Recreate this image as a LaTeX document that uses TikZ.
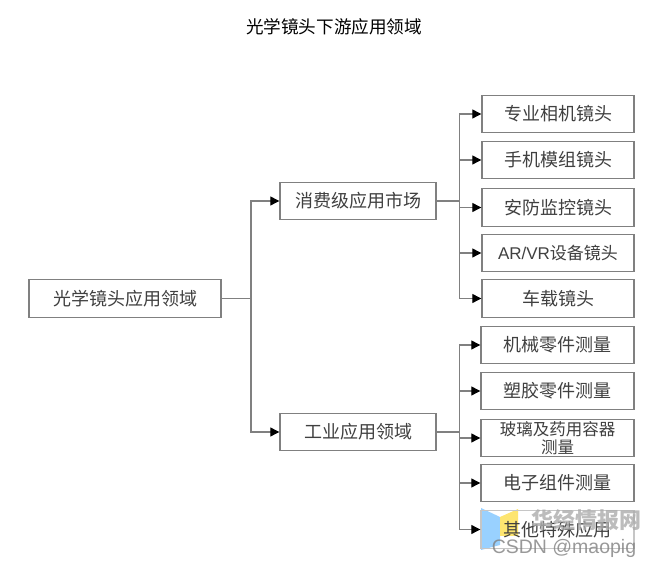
\documentclass[tikz,border=0pt]{standalone}
\usepackage{fontspec}
\setmainfont{Noto Sans CJK SC}
\newfontfamily\latinfont{Liberation Sans}
\usetikzlibrary{arrows.meta}
\definecolor{linegray}{HTML}{808080}
\definecolor{textgray}{HTML}{404040}
\tikzset{
  every node/.style={text=textgray, font=\fontsize{18}{20}\selectfont},
  box/.style={draw=linegray, line width=1.4pt, fill=white, minimum height=37.5pt, inner sep=0pt, align=center},
  rootbox/.style={box, minimum width=192pt},
  midbox/.style={box, minimum width=156pt},
  leafbox/.style={box, minimum width=152pt},
  lowbox/.style={box, minimum width=153pt},
  link/.style={draw=linegray, line width=1.2pt},
  arrowlink/.style={link, -{Triangle[length=9pt,width=9pt,color=black,fill=black]}},
  mark text/.style={inner sep=0pt, text=gray, text opacity=0.8}
}
\begin{document}
\begin{tikzpicture}[x=1pt,y=-1pt]
\useasboundingbox (0,0) rectangle (649,569);
\fill[white] (0,0) rectangle (649,569);
\node[inner sep=0pt,text=black,font=\fontsize{17.6}{20}\selectfont] (title) at (334,27) {光学镜头下游应用领域};

% logo lies under the last box
\fill[blue!45!cyan!40!white] (481,508) -- (500,517) -- (500,545) -- (481,550) -- cycle;
\fill[yellow!70!orange!55!white] (500,517) -- (518,509) -- (518,536) -- (500,536) -- cycle;

\node[rootbox] (root) at (125,298.5) {光学镜头应用领域};
\node[midbox] (cons) at (358,201) {消费级应用市场};
\node[midbox] (indu) at (358,432) {工业应用领域};

\node[leafbox] (a1) at (558,114) {专业相机镜头};
\node[leafbox] (a2) at (558,160) {手机模组镜头};
\node[leafbox] (a3) at (558,207.5) {安防监控镜头};
\node[leafbox] (a4) at (558,253) {\latinfont\fontsize{17}{20}\selectfont AR/VR\rmfamily 设备镜头};
\node[leafbox] (a5) at (558,298.5) {车载镜头};

\node[lowbox] (b1) at (557.5,345) {机械零件测量};
\node[lowbox] (b2) at (557.5,391) {塑胶零件测量};
\node[lowbox,font=\fontsize{16.5}{18}\selectfont] (b3) at (557.5,438) {玻璃及药用容器\\测量};
\node[lowbox] (b4) at (557.5,483) {电子组件测量};
\node[lowbox,fill=none,draw=linegray!45] (b5) at (557.5,529.5) {其他特殊应用};

\coordinate (busr) at (251,298.5);
\coordinate (busc) at (459.5,201);
\coordinate (busi) at (459.5,432);

\draw[link] (root.east) -- (busr);
\draw[arrowlink] (busr) |- (cons.west);
\draw[arrowlink] (busr) |- (indu.west);

\draw[link] (cons.east) -- (busc);
\foreach \n in {a1,a2,a3,a4,a5} \draw[arrowlink] (busc) |- (\n.west);

\draw[link] (indu.east) -- (busi);
\foreach \n in {b1,b2,b3,b4,b5} \draw[arrowlink] (busi) |- (\n.west);

% watermark
\node[mark text,font=\bfseries\fontsize{22}{24}\selectfont,text=gray!65] (mark1) at (586,520) {华经情报网};
\node[mark text,font=\latinfont\fontsize{19.5}{22}\selectfont] (mark2) at (564,548) {CSDN @maopig};
\end{tikzpicture}
\end{document}
